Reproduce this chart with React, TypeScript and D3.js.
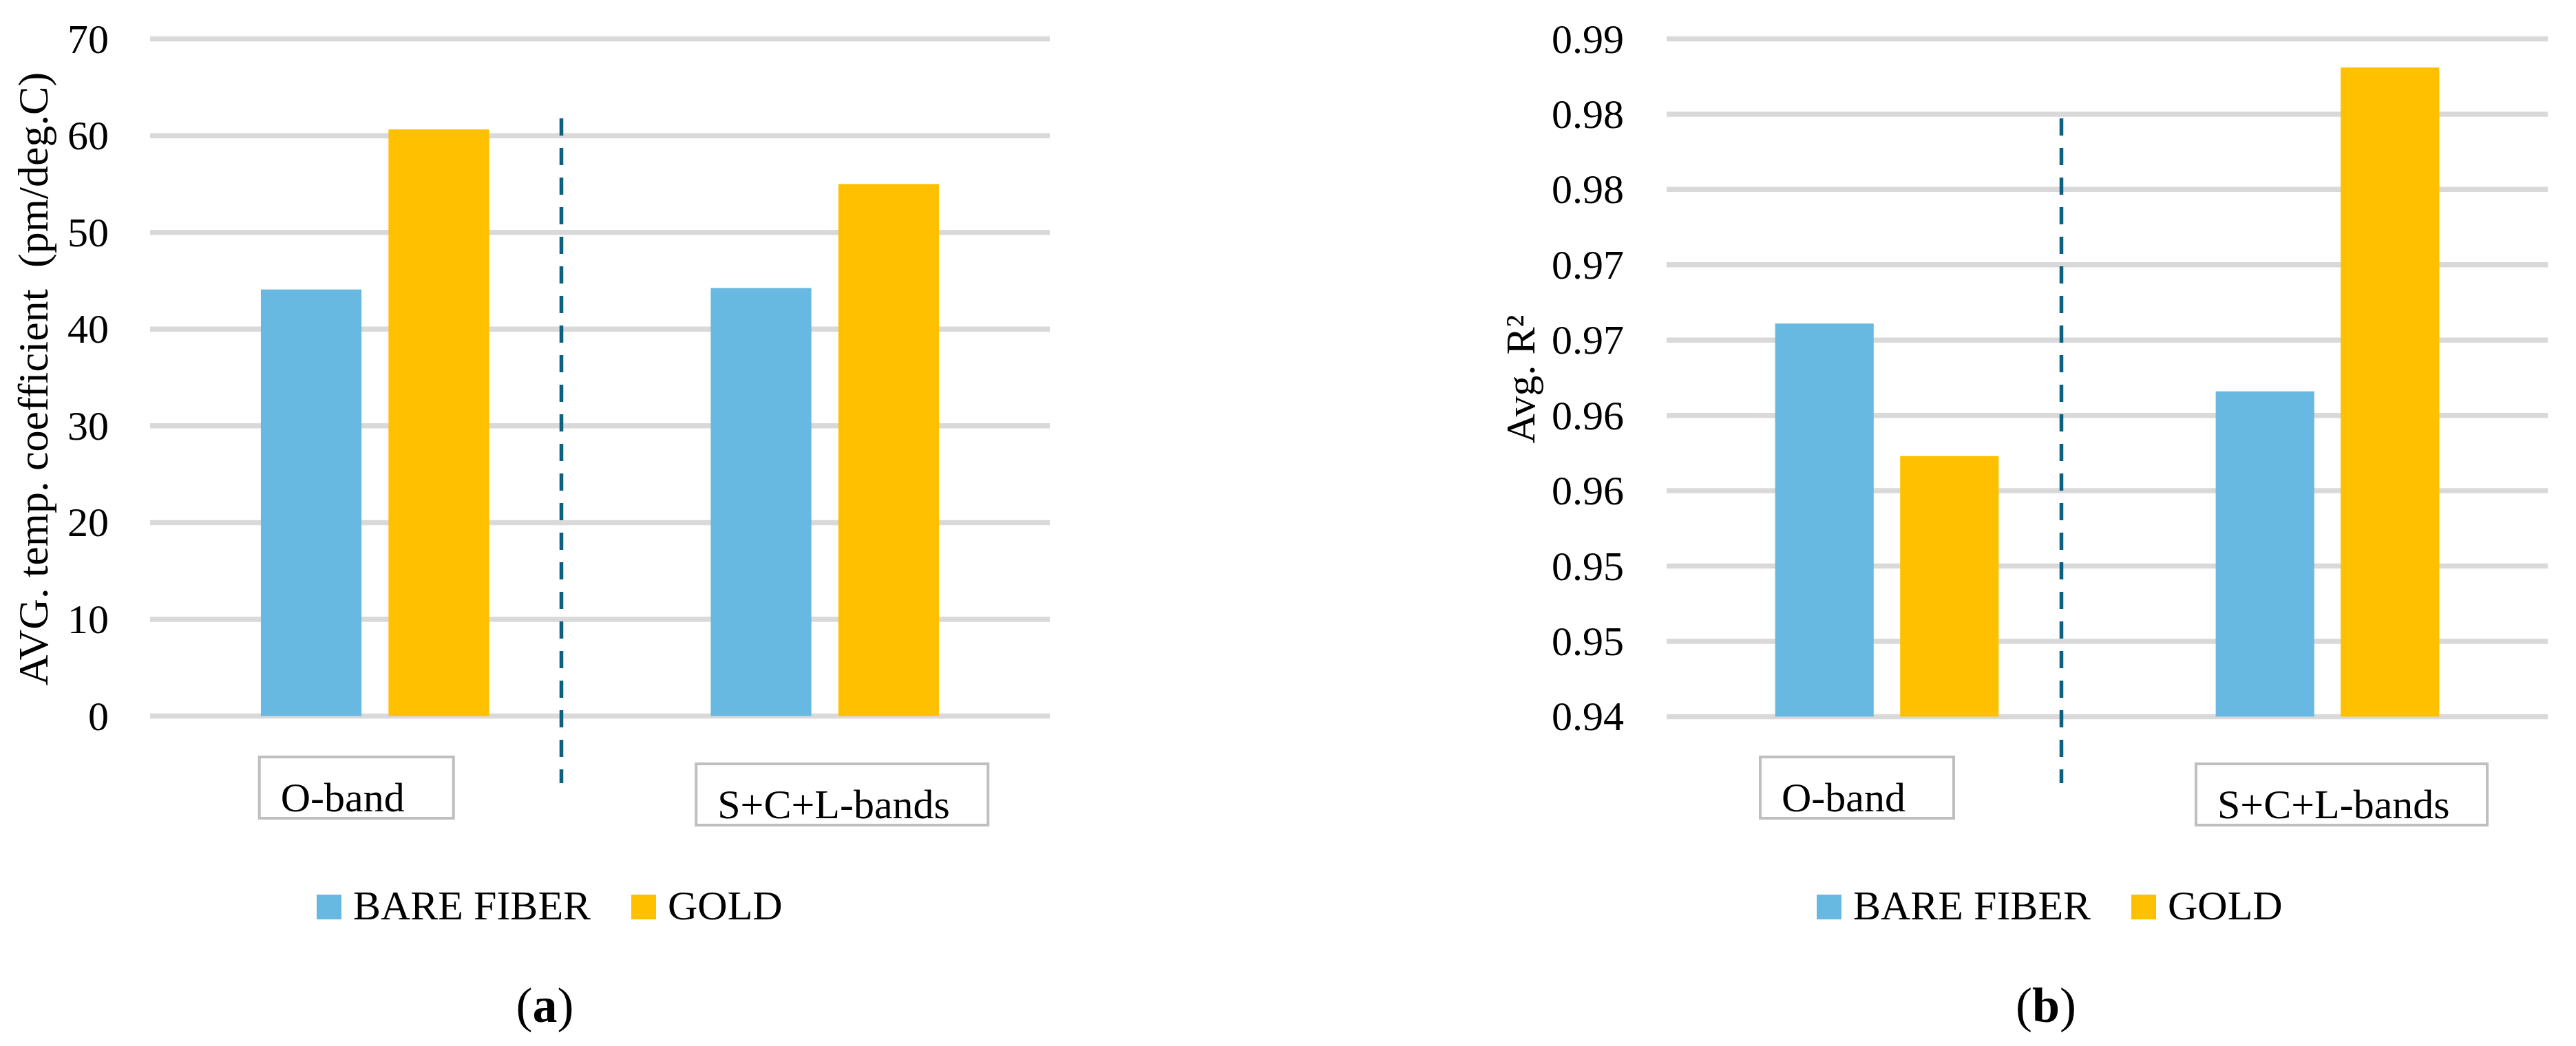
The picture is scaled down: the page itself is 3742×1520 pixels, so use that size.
import React from 'react';
import * as d3 from 'd3';

// ---------- data ----------
const categories = ['O-band', 'S+C+L-bands'];
const seriesNames = ['BARE FIBER', 'GOLD'];
const seriesColors = ['#68B9E1', '#FFC000'];

const tempBare = [44.1, 44.25];
const tempGold = [60.65, 55.0];
const tempTicks = [0, 10, 20, 30, 40, 50, 60, 70];
const tempTickLabels = ['0', '10', '20', '30', '40', '50', '60', '70'];

const r2Bare = [0.9661, 0.9616];
const r2Gold = [0.9573, 0.9831];
const r2Ticks = [0.94, 0.945, 0.95, 0.955, 0.96, 0.965, 0.97, 0.975, 0.98, 0.985];
const r2TickLabels = ['0.94', '0.95', '0.95', '0.96', '0.96', '0.97', '0.97', '0.98', '0.98', '0.99'];

const FONT = '"Liberation Serif", "Times New Roman", serif';

type PanelProps = {
  left: number;
  right: number;
  top: number;
  bottom: number;
  domain: [number, number];
  ticks: number[];
  tickLabels: string[];
  tickRight: number;
  title: string;
  titleX: number;
  titleSize: number;
  bare: number[];
  gold: number[];
  dashX: number;
  labelOffsets: number[];
  boxWidths: number[];
  legendX: number;
  panel: string;
  panelX: number;
};

function Panel(p: PanelProps) {
  const x = d3.scaleBand<string>().domain(categories).range([p.left, p.right]).padding(0);
  const y = d3.scaleLinear().domain(p.domain).range([p.bottom, p.top]);
  const band = x.bandwidth();
  const groupW = band * 0.5074;
  const series = [p.bare, p.gold];
  const boxTops = [1100, 1110];
  return (
    <g>
      {/* gridlines */}
      {p.ticks.map((t, i) => (
        <line key={'g' + i} x1={p.left} x2={p.right} y1={y(t)} y2={y(t)} stroke="#D9D9D9" strokeWidth={7.5} />
      ))}
      {/* tick labels */}
      {p.ticks.map((t, i) => (
        <text key={'t' + i} x={p.tickRight} y={y(t) + 20} textAnchor="end" fontSize={60} fontFamily={FONT} fill="#000">
          {p.tickLabels[i]}
        </text>
      ))}
      {/* bars */}
      {categories.map((c, ci) => {
        const cx = (x(c) as number) + band / 2;
        const inner = d3
          .scaleBand<string>()
          .domain(seriesNames)
          .range([cx - groupW / 2, cx + groupW / 2])
          .paddingInner(0.2115)
          .paddingOuter(0);
        return seriesNames.map((s, si) => (
          <rect
            key={c + s}
            x={inner(s) as number}
            width={inner.bandwidth()}
            y={y(series[si][ci])}
            height={y(p.domain[0]) - y(series[si][ci])}
            fill={seriesColors[si]}
          />
        ));
      })}
      {/* dashed separator */}
      <line x1={p.dashX} x2={p.dashX} y1={172} y2={1138} stroke="#0E6082" strokeWidth={5.5} strokeDasharray="25 18" />
      {/* category label boxes */}
      {categories.map((c, ci) => {
        const cx = (x(c) as number) + band / 2;
        const tx = cx + p.labelOffsets[ci];
        const top = boxTops[ci];
        return (
          <g key={'cb' + ci}>
            <rect x={tx - 31} y={top} width={p.boxWidths[ci]} height={89} fill="#fff" stroke="#BFBFBF" strokeWidth={4} />
            <text x={tx} y={top + 79} fontSize={60} fontFamily={FONT} fill="#000">
              {c}
            </text>
          </g>
        );
      })}
      {/* y title */}
      <text
        transform={`translate(${p.titleX},${(p.top + p.bottom) / 2 + 2}) rotate(-90)`}
        textAnchor="middle"
        fontSize={p.titleSize}
        fontFamily={FONT}
        fill="#000"
        style={{ whiteSpace: 'pre' }}
      >
        {p.title}
      </text>
      {/* legend */}
      {seriesNames.map((s, si) => {
        const lx = p.legendX + si * 457;
        return (
          <g key={'lg' + si}>
            <rect x={lx} y={1300} width={36} height={36} fill={seriesColors[si]} />
            <text x={lx + 53} y={1336} fontSize={60} fontFamily={FONT} fill="#000">
              {s}
            </text>
          </g>
        );
      })}
      {/* panel label */}
      <text x={p.panelX} y={1485} textAnchor="middle" fontSize={72} fontFamily={FONT} fill="#000">
        (<tspan fontWeight="bold">{p.panel}</tspan>)
      </text>
    </g>
  );
}

export default function App() {
  return (
    <svg
      width={3742}
      height={1520}
      viewBox="0 0 3742 1520"
      style={{ position: 'absolute', left: 0, top: 0, display: 'block', background: '#fff' }}
    >
      <rect x={0} y={0} width={3742} height={1520} fill="#fff" />
      <Panel
        left={218}
        right={1525}
        top={56.6}
        bottom={1040.5}
        domain={[0, 70]}
        ticks={tempTicks}
        tickLabels={tempTickLabels}
        tickRight={158}
        title={'AVG. temp. coefficient  (pm/deg.C)'}
        titleX={69}
        titleSize={62}
        bare={tempBare}
        gold={tempGold}
        dashX={815.5}
        labelOffsets={[-137, -156]}
        boxWidths={[282, 424]}
        legendX={460}
        panel="a"
        panelX={791.5}
      />
      <Panel
        left={2421}
        right={3701}
        top={56.5}
        bottom={1041.4}
        domain={[0.94, 0.985]}
        ticks={r2Ticks}
        tickLabels={r2TickLabels}
        tickRight={2359}
        title={'Avg. R²'}
        titleX={2229}
        titleSize={60}
        bare={r2Bare}
        gold={r2Gold}
        dashX={2994.5}
        labelOffsets={[-153, -160]}
        boxWidths={[281, 423]}
        legendX={2639}
        panel="b"
        panelX={2972}
      />
    </svg>
  );
}
